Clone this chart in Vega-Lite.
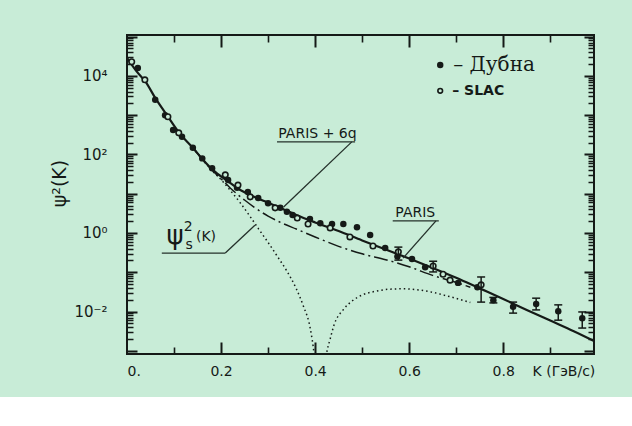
{
  "$schema": "https://vega.github.io/schema/vega-lite/v6.json",
  "width": 467,
  "height": 319,
  "autosize": {"type": "none"},
  "padding": {"left": 127, "top": 35, "right": 38, "bottom": 43},
  "background": "#c8ecd7",
  "config": {
    "view": {"stroke": "#151a17", "strokeWidth": 2},
    "font": "DejaVu Sans",
    "axis": {"labelColor": "#151a17", "titleColor": "#151a17", "grid": false, "domain": false}
  },
  "datasets": {
    "solid": [{"k":0,"psi":28840},{"k":0.02,"psi":13180},{"k":0.04,"psi":6918},{"k":0.06,"psi":2754},{"k":0.085,"psi":1000},{"k":0.113,"psi":331},{"k":0.14,"psi":148},{"k":0.162,"psi":72.4},{"k":0.183,"psi":39.8},{"k":0.213,"psi":21.4},{"k":0.24,"psi":12.6},{"k":0.27,"psi":8.32},{"k":0.3,"psi":5.89},{"k":0.33,"psi":4.17},{"k":0.36,"psi":2.88},{"k":0.4,"psi":1.86},{"k":0.45,"psi":1.12},{"k":0.5,"psi":0.646},{"k":0.55,"psi":0.38},{"k":0.6,"psi":0.224},{"k":0.65,"psi":0.129},{"k":0.7,"psi":0.0724},{"k":0.75,"psi":0.0389},{"k":0.8,"psi":0.0209},{"k":0.85,"psi":0.011},{"k":0.9,"psi":0.00589},{"k":0.95,"psi":0.00316},{"k":0.993,"psi":0.00178}],
    "dashdot": [{"k":0.14,"psi":148},{"k":0.162,"psi":70.8},{"k":0.183,"psi":37.2},{"k":0.2,"psi":24},{"k":0.22,"psi":13.8},{"k":0.25,"psi":6.92},{"k":0.27,"psi":4.57},{"k":0.3,"psi":2.69},{"k":0.33,"psi":1.78},{"k":0.36,"psi":1.26},{"k":0.4,"psi":0.794},{"k":0.45,"psi":0.457},{"k":0.5,"psi":0.295},{"k":0.55,"psi":0.209},{"k":0.6,"psi":0.138},{"k":0.65,"psi":0.0832},{"k":0.7,"psi":0.055},{"k":0.73,"psi":0.0417}],
    "dotted": [{"k":0.14,"psi":148,"branch":"a"},{"k":0.162,"psi":70.8,"branch":"a"},{"k":0.183,"psi":36.3,"branch":"a"},{"k":0.2,"psi":22.9,"branch":"a"},{"k":0.22,"psi":12,"branch":"a"},{"k":0.24,"psi":6.03,"branch":"a"},{"k":0.26,"psi":2.82,"branch":"a"},{"k":0.28,"psi":1.26,"branch":"a"},{"k":0.3,"psi":0.575,"branch":"a"},{"k":0.32,"psi":0.251,"branch":"a"},{"k":0.34,"psi":0.107,"branch":"a"},{"k":0.36,"psi":0.038,"branch":"a"},{"k":0.375,"psi":0.0138,"branch":"a"},{"k":0.39,"psi":0.00355,"branch":"a"},{"k":0.398,"psi":0.000794,"branch":"a"},{"k":0.402,"psi":0.000251,"branch":"a"},
      {"k":0.419,"psi":0.000251,"branch":"b"},{"k":0.424,"psi":0.000794,"branch":"b"},{"k":0.432,"psi":0.002,"branch":"b"},{"k":0.44,"psi":0.00447,"branch":"b"},{"k":0.46,"psi":0.0112,"branch":"b"},{"k":0.48,"psi":0.0191,"branch":"b"},{"k":0.5,"psi":0.0263,"branch":"b"},{"k":0.53,"psi":0.0331,"branch":"b"},{"k":0.56,"psi":0.0372,"branch":"b"},{"k":0.59,"psi":0.038,"branch":"b"},{"k":0.62,"psi":0.0355,"branch":"b"},{"k":0.65,"psi":0.0309,"branch":"b"},{"k":0.68,"psi":0.0251,"branch":"b"},{"k":0.71,"psi":0.02,"branch":"b"},{"k":0.73,"psi":0.017,"branch":"b"}],
    "dubna": [{"k":0.023,"psi":15849},{"k":0.06,"psi":2455},{"k":0.081,"psi":1000},{"k":0.098,"psi":417},{"k":0.117,"psi":282},{"k":0.14,"psi":148},{"k":0.16,"psi":79.4},{"k":0.181,"psi":44.7},{"k":0.215,"psi":22.4},{"k":0.234,"psi":14.1},{"k":0.257,"psi":11},{"k":0.279,"psi":7.76},{"k":0.3,"psi":5.75},{"k":0.326,"psi":4.37},{"k":0.34,"psi":3.47},{"k":0.352,"psi":2.88},{"k":0.389,"psi":2.29},{"k":0.411,"psi":1.78},{"k":0.436,"psi":1.7},{"k":0.46,"psi":1.7},{"k":0.489,"psi":1.41},{"k":0.517,"psi":0.891},{"k":0.549,"psi":0.417},{"k":0.575,"psi":0.251},{"k":0.606,"psi":0.219},{"k":0.634,"psi":0.135},{"k":0.704,"psi":0.0537},{"k":0.745,"psi":0.0417},{"k":0.779,"psi":0.0195},{"k":0.821,"psi":0.0132},{"k":0.87,"psi":0.0155},{"k":0.917,"psi":0.0102},{"k":0.968,"psi":0.00676}],
    "slac": [{"k":0.01,"psi":22909},{"k":0.038,"psi":7943},{"k":0.087,"psi":912},{"k":0.11,"psi":355},{"k":0.209,"psi":30.2},{"k":0.236,"psi":16.6},{"k":0.262,"psi":8.32},{"k":0.315,"psi":4.37},{"k":0.362,"psi":2.4},{"k":0.385,"psi":1.7},{"k":0.432,"psi":1.35},{"k":0.474,"psi":0.794},{"k":0.523,"psi":0.468},{"k":0.577,"psi":0.331},{"k":0.651,"psi":0.145},{"k":0.672,"psi":0.0891},{"k":0.687,"psi":0.0631},{"k":0.753,"psi":0.0479}],
    "errors": [{"k":0.577,"lo":0.204,"hi":0.437},{"k":0.651,"lo":0.102,"hi":0.191},{"k":0.753,"lo":0.0174,"hi":0.0759},{"k":0.779,"lo":0.0166,"hi":0.0229},{"k":0.821,"lo":0.00912,"hi":0.0174},{"k":0.87,"lo":0.011,"hi":0.0219},{"k":0.917,"lo":0.00603,"hi":0.0148},{"k":0.968,"lo":0.0038,"hi":0.00977}],
    "leaders": [{"k":0.319,"psi":209,"k2":0.485,"psi2":209},{"k":0.478,"psi":209,"k2":0.333,"psi2":4.57},{"k":0.565,"psi":2.03,"k2":0.663,"psi2":2.03},{"k":0.657,"psi":2.03,"k2":0.587,"psi2":0.229},{"k":0.074,"psi":0.309,"k2":0.209,"psi2":0.309},{"k":0.209,"psi":0.309,"k2":0.272,"psi2":1.58}],
    "curvelabels": [{"k":0.405,"psi":209,"text":"PARIS + 6q"},{"k":0.613,"psi":2.03,"text":"PARIS"}],
    "psisym": [{"k":0.102,"psi":0.832,"text":"ψ"}],
    "psiparts": [{"k":0.13,"psi":1.41,"text":"2"},{"k":0.132,"psi":0.49,"text":"s"},{"k":0.168,"psi":0.794,"text":"(K)"}],
    "legdubna": [{"k":0.666,"psi":19055,"text":"– Дубна"}],
    "legslac": [{"k":0.666,"psi":4169,"text":"– SLAC"}]
  },
  "layer": [
    {
      "data": {"name": "solid"},
      "mark": {"type": "line", "color": "#151a17", "strokeWidth": 2.2, "interpolate": "monotone", "clip": true},
      "encoding": {
        "x": {"field": "k", "type": "quantitative", "scale": {"domain": [0, 0.993], "nice": false, "zero": false},
          "axis": {"orient": "bottom", "values": [0, 0.2, 0.4, 0.6, 0.8, 0.928], "labelExpr": "datum.value == 0 ? '0.' : datum.value > 0.9 ? 'K (ГэВ/c)' : format(datum.value, '.1f')", "ticks": false, "labelPadding": 10, "labelFontSize": 14, "labelFlush": true, "title": null}},
        "y": {"field": "psi", "type": "quantitative", "scale": {"type": "log", "domain": [0.00083, 110000], "nice": false},
          "axis": {"orient": "left", "values": [0.01, 1, 100, 10000], "labelExpr": "datum.value > 5000 ? '10⁴' : datum.value > 50 ? '10²' : datum.value > 0.5 ? '10⁰' : '10⁻²'", "ticks": false, "labelPadding": 20, "labelFontSize": 15, "title": "ψ²(K)", "titleFontSize": 19, "titleFontWeight": "normal", "titleX": -68, "titleY": 148, "titleAngle": -90, "titleAlign": "center", "titleBaseline": "middle"}}
      }
    },
    {
      "data": {"name": "dashdot"},
      "mark": {"type": "line", "color": "#151a17", "strokeWidth": 1.5, "strokeDash": [14, 4, 2, 4], "interpolate": "monotone", "clip": true},
      "encoding": {
        "x": {"field": "k", "type": "quantitative", "scale": {"domain": [0, 0.993], "nice": false, "zero": false},
          "axis": {"orient": "bottom", "offset": -12, "values": [0.2, 0.4, 0.6, 0.8], "labels": false, "tickSize": 12, "tickWidth": 2, "tickColor": "#151a17", "title": null}},
        "y": {"field": "psi", "type": "quantitative", "scale": {"type": "log", "domain": [0.00083, 110000], "nice": false},
          "axis": {"orient": "left", "offset": -10, "values": [0.001, 0.01, 0.1, 1, 10, 100, 1000, 10000, 100000], "labels": false, "tickSize": 10, "tickWidth": 2, "tickColor": "#151a17", "title": null}}
      }
    },
    {
      "data": {"name": "dotted"},
      "mark": {"type": "line", "color": "#151a17", "strokeWidth": 1.5, "strokeDash": [1.5, 3], "interpolate": "monotone", "clip": true},
      "encoding": {
        "x": {"field": "k", "type": "quantitative", "scale": {"domain": [0, 0.993], "nice": false, "zero": false},
          "axis": {"orient": "top", "offset": -12, "values": [0.2, 0.4, 0.6, 0.8], "labels": false, "tickSize": 12, "tickWidth": 2, "tickColor": "#151a17", "title": null}},
        "y": {"field": "psi", "type": "quantitative", "scale": {"type": "log", "domain": [0.00083, 110000], "nice": false},
          "axis": {"orient": "right", "offset": -10, "values": [0.001, 0.01, 0.1, 1, 10, 100, 1000, 10000, 100000], "labels": false, "tickSize": 10, "tickWidth": 2, "tickColor": "#151a17", "title": null}},
        "detail": {"field": "branch"}
      }
    },
    {
      "data": {"name": "dubna"},
      "mark": {"type": "point", "shape": "circle", "filled": true, "color": "#151a17", "size": 42, "opacity": 1},
      "encoding": {
        "x": {"field": "k", "type": "quantitative", "scale": {"domain": [0, 0.993], "nice": false, "zero": false},
          "axis": {"orient": "bottom", "offset": -7, "values": [0.1, 0.3, 0.5, 0.7, 0.9], "labels": false, "tickSize": 7, "tickWidth": 1.6, "tickColor": "#151a17", "title": null}},
        "y": {"field": "psi", "type": "quantitative", "scale": {"type": "log", "domain": [0.00083, 110000], "nice": false},
          "axis": {"orient": "left", "offset": -6, "values": [0.002,0.003,0.004,0.005,0.006,0.007,0.008,0.009,0.02,0.03,0.04,0.05,0.06,0.07,0.08,0.09,0.2,0.3,0.4,0.5,0.6,0.7,0.8,0.9,2,3,4,5,6,7,8,9,20,30,40,50,60,70,80,90,200,300,400,500,600,700,800,900,2000,3000,4000,5000,6000,7000,8000,9000,20000,30000,40000,50000,60000,70000,80000,90000], "labels": false, "tickSize": 6, "tickWidth": 1.5, "tickColor": "#151a17", "title": null}}
      }
    },
    {
      "data": {"name": "slac"},
      "mark": {"type": "point", "shape": "circle", "filled": true, "fill": "#c8ecd7", "stroke": "#151a17", "strokeWidth": 1.6, "size": 30, "opacity": 1},
      "encoding": {
        "x": {"field": "k", "type": "quantitative", "scale": {"domain": [0, 0.993], "nice": false, "zero": false},
          "axis": {"orient": "top", "offset": -7, "values": [0.1, 0.3, 0.5, 0.7, 0.9], "labels": false, "tickSize": 7, "tickWidth": 1.6, "tickColor": "#151a17", "title": null}},
        "y": {"field": "psi", "type": "quantitative", "scale": {"type": "log", "domain": [0.00083, 110000], "nice": false},
          "axis": {"orient": "right", "offset": -6, "values": [0.002,0.003,0.004,0.005,0.006,0.007,0.008,0.009,0.02,0.03,0.04,0.05,0.06,0.07,0.08,0.09,0.2,0.3,0.4,0.5,0.6,0.7,0.8,0.9,2,3,4,5,6,7,8,9,20,30,40,50,60,70,80,90,200,300,400,500,600,700,800,900,2000,3000,4000,5000,6000,7000,8000,9000,20000,30000,40000,50000,60000,70000,80000,90000], "labels": false, "tickSize": 6, "tickWidth": 1.5, "tickColor": "#151a17", "title": null}}
      }
    },
    {
      "layer": [
        {
          "data": {"name": "errors"},
          "mark": {"type": "rule", "color": "#151a17", "strokeWidth": 1.5},
          "encoding": {
            "x": {"field": "k", "type": "quantitative", "scale": {"domain": [0, 0.993], "nice": false, "zero": false}, "axis": null},
            "y": {"field": "lo", "type": "quantitative", "scale": {"type": "log", "domain": [0.00083, 110000], "nice": false}, "axis": null},
            "y2": {"field": "hi"}
          }
        },
        {
          "data": {"name": "errors"},
          "mark": {"type": "point", "shape": "stroke", "filled": false, "color": "#151a17", "strokeWidth": 1.5, "size": 64, "opacity": 1},
          "encoding": {
            "x": {"field": "k", "type": "quantitative", "scale": {"domain": [0, 0.993], "nice": false, "zero": false}, "axis": null},
            "y": {"field": "lo", "type": "quantitative", "scale": {"type": "log", "domain": [0.00083, 110000], "nice": false}, "axis": null}
          }
        },
        {
          "data": {"name": "errors"},
          "mark": {"type": "point", "shape": "stroke", "filled": false, "color": "#151a17", "strokeWidth": 1.5, "size": 64, "opacity": 1},
          "encoding": {
            "x": {"field": "k", "type": "quantitative", "scale": {"domain": [0, 0.993], "nice": false, "zero": false}, "axis": null},
            "y": {"field": "hi", "type": "quantitative", "scale": {"type": "log", "domain": [0.00083, 110000], "nice": false}, "axis": null}
          }
        },
        {
          "data": {"name": "leaders"},
          "mark": {"type": "rule", "color": "#24302a", "strokeWidth": 1.3},
          "encoding": {
            "x": {"field": "k", "type": "quantitative", "scale": {"domain": [0, 0.993], "nice": false, "zero": false}, "axis": null},
            "y": {"field": "psi", "type": "quantitative", "scale": {"type": "log", "domain": [0.00083, 110000], "nice": false}, "axis": null},
            "x2": {"field": "k2"},
            "y2": {"field": "psi2"}
          }
        },
        {
          "data": {"name": "curvelabels"},
          "mark": {"type": "text", "color": "#151a17", "fontSize": 14, "align": "center", "baseline": "bottom", "dy": -1},
          "encoding": {
            "x": {"field": "k", "type": "quantitative", "scale": {"domain": [0, 0.993], "nice": false, "zero": false}, "axis": null},
            "y": {"field": "psi", "type": "quantitative", "scale": {"type": "log", "domain": [0.00083, 110000], "nice": false}, "axis": null},
            "text": {"field": "text"}
          }
        },
        {
          "data": {"name": "psisym"},
          "mark": {"type": "text", "color": "#151a17", "fontSize": 26, "align": "center", "baseline": "middle"},
          "encoding": {
            "x": {"field": "k", "type": "quantitative", "scale": {"domain": [0, 0.993], "nice": false, "zero": false}, "axis": null},
            "y": {"field": "psi", "type": "quantitative", "scale": {"type": "log", "domain": [0.00083, 110000], "nice": false}, "axis": null},
            "text": {"field": "text"}
          }
        },
        {
          "data": {"name": "psiparts"},
          "mark": {"type": "text", "color": "#151a17", "fontSize": 14, "align": "center", "baseline": "middle"},
          "encoding": {
            "x": {"field": "k", "type": "quantitative", "scale": {"domain": [0, 0.993], "nice": false, "zero": false}, "axis": null},
            "y": {"field": "psi", "type": "quantitative", "scale": {"type": "log", "domain": [0.00083, 110000], "nice": false}, "axis": null},
            "text": {"field": "text"}
          }
        },
        {
          "data": {"name": "legdubna"},
          "mark": {"type": "point", "shape": "circle", "filled": true, "color": "#151a17", "size": 42, "opacity": 1},
          "encoding": {
            "x": {"field": "k", "type": "quantitative", "scale": {"domain": [0, 0.993], "nice": false, "zero": false}, "axis": null},
            "y": {"field": "psi", "type": "quantitative", "scale": {"type": "log", "domain": [0.00083, 110000], "nice": false}, "axis": null}
          }
        },
        {
          "data": {"name": "legdubna"},
          "mark": {"type": "text", "color": "#151a17", "font": "DejaVu Serif", "fontSize": 20, "align": "left", "baseline": "middle", "dx": 13},
          "encoding": {
            "x": {"field": "k", "type": "quantitative", "scale": {"domain": [0, 0.993], "nice": false, "zero": false}, "axis": null},
            "y": {"field": "psi", "type": "quantitative", "scale": {"type": "log", "domain": [0.00083, 110000], "nice": false}, "axis": null},
            "text": {"field": "text"}
          }
        },
        {
          "data": {"name": "legslac"},
          "mark": {"type": "point", "shape": "circle", "filled": true, "fill": "#c8ecd7", "stroke": "#151a17", "strokeWidth": 1.6, "size": 22, "opacity": 1},
          "encoding": {
            "x": {"field": "k", "type": "quantitative", "scale": {"domain": [0, 0.993], "nice": false, "zero": false}, "axis": null},
            "y": {"field": "psi", "type": "quantitative", "scale": {"type": "log", "domain": [0.00083, 110000], "nice": false}, "axis": null}
          }
        },
        {
          "data": {"name": "legslac"},
          "mark": {"type": "text", "color": "#151a17", "fontSize": 14, "fontWeight": "bold", "align": "left", "baseline": "middle", "dx": 12},
          "encoding": {
            "x": {"field": "k", "type": "quantitative", "scale": {"domain": [0, 0.993], "nice": false, "zero": false}, "axis": null},
            "y": {"field": "psi", "type": "quantitative", "scale": {"type": "log", "domain": [0.00083, 110000], "nice": false}, "axis": null},
            "text": {"field": "text"}
          }
        }
      ]
    }
  ],
  "resolve": {"axis": {"x": "independent", "y": "independent"}}
}
